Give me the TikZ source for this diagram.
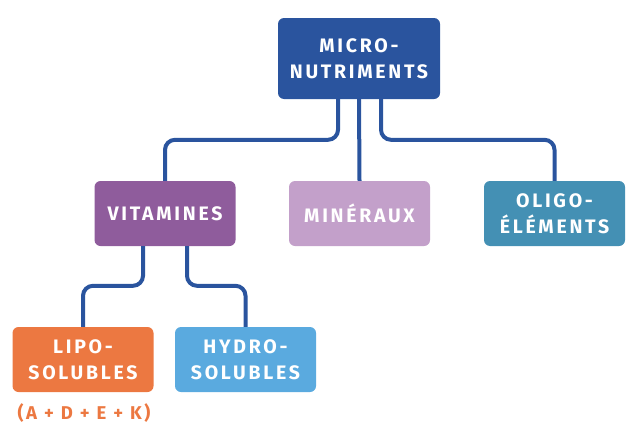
\documentclass[tikz,border=0pt]{standalone}
\usepackage{fontspec}
\setmainfont{Fira Sans}
\newfontfamily\lblfont{Fira Sans}[LetterSpace=14]
\usetikzlibrary{calc}
\definecolor{cblue}{HTML}{2A549E}
\definecolor{cvit}{HTML}{8F5C9C}
\definecolor{cmin}{HTML}{C3A0CA}
\definecolor{coli}{HTML}{4490B4}
\definecolor{clipo}{HTML}{EC7841}
\definecolor{chyd}{HTML}{5AAADF}
\tikzset{
  box/.style={rounded corners=6pt, text=white, align=center, inner sep=0pt,
    minimum width=141pt, minimum height=65pt,
    font=\lblfont\bfseries\fontsize{19.5}{26}\selectfont},
  conn/.style={draw=cblue, line width=4pt, rounded corners=10pt}
}
\begin{document}
\begin{tikzpicture}[x=1pt,y=-1pt]
\useasboundingbox (0,0) rectangle (642,431);
\node[box, fill=cblue, minimum width=162pt, minimum height=81pt] (top) at (359,58.5) {MICRO-\\NUTRIMENTS};
\node[box, fill=cvit] (vit) at (165,213.5) {VITAMINES};
\node[box, fill=cmin] (min) at (359.5,213.5) {MINÉRAUX};
\node[box, fill=coli] (oli) at (554.5,213.5) {OLIGO-\\ÉLÉMENTS};
\node[box, fill=clipo] (lipo) at (83,359.5) {LIPO-\\SOLUBLES};
\node[box, fill=chyd] (hyd) at (245.5,359.5) {HYDRO-\\SOLUBLES};
\node[text=clipo, font=\lblfont\bfseries\fontsize{18.5}{20}\selectfont, inner sep=0pt] (abc) at (84,413) {(A + D + E + K)};
\draw[conn] ([xshift=-21pt]top.south) |- ($(vit.north)+(0,-41)$) -- (vit.north);
\draw[conn] (top.south) -- (min.north);
\draw[conn] ([xshift=22pt]top.south) |- ($(oli.north)+(0,-41)$) -- (oli.north);
\draw[conn] ([xshift=-22pt]vit.south) |- ($(lipo.north)+(0,-41)$) -- (lipo.north);
\draw[conn] ([xshift=22pt]vit.south) |- ($(hyd.north)+(0,-41)$) -- (hyd.north);
\end{tikzpicture}
\end{document}
